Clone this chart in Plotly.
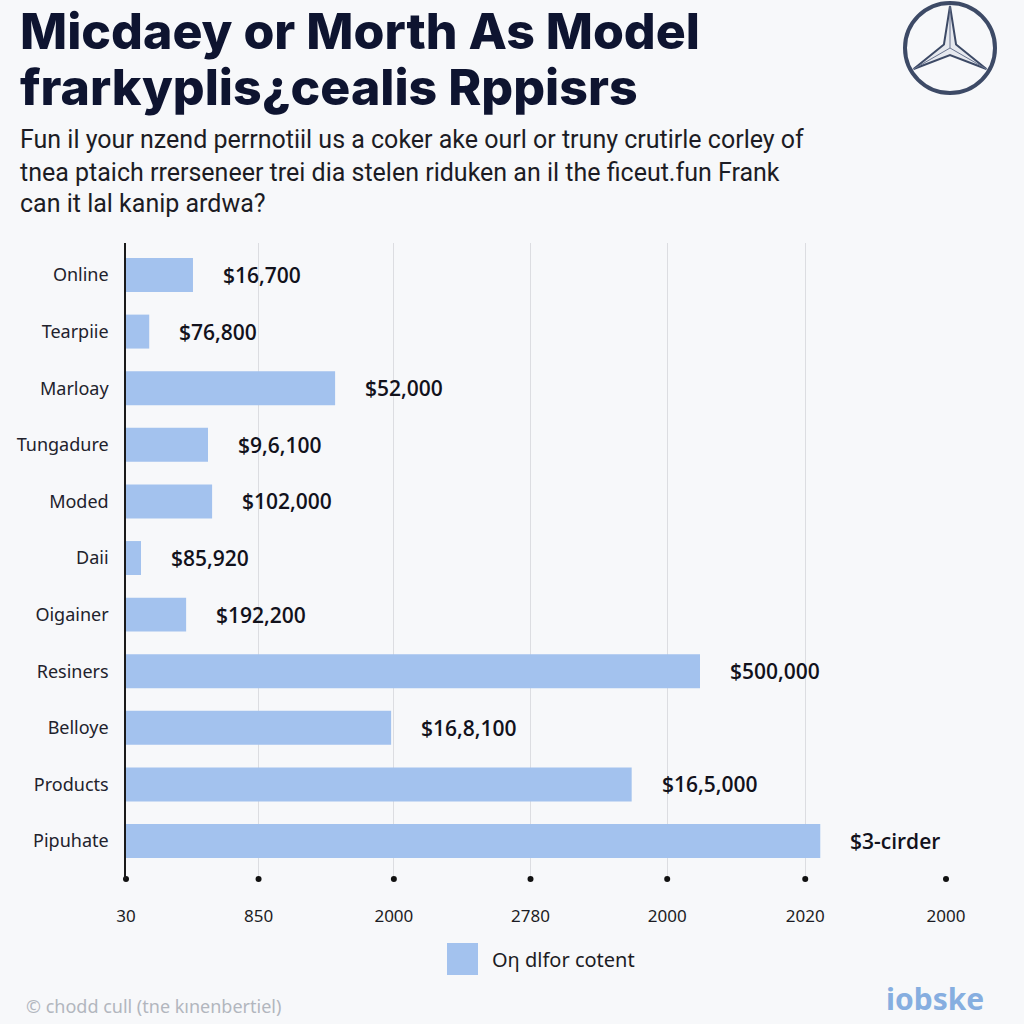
import math
import plotly.graph_objects as go

# ---------------- data ----------------
categories = ["Online", "Tearpiie", "Marloay", "Tungadure", "Moded", "Daii",
              "Oigainer", "Resiners", "Belloye", "Products", "Pipuhate"]
values = [0.49, 0.17, 1.53, 0.60, 0.63, 0.11, 0.44, 4.20, 1.94, 3.70, 5.08]
value_labels = ["$16,700", "$76,800", "$52,000", "$9,6,100", "$102,000", "$85,920",
                "$192,200", "$500,000", "$16,8,100", "$16,5,000", "$3-cirder"]
tick_vals = [0, 0.97, 1.96, 2.96, 3.96, 4.97, 6.0]
tick_text = ["30", "850", "2000", "2780", "2000", "2020", "2000"]
series_name = "Oη dlfor cotent"
title_lines = ["Micdaey or Morth As Model", "frarkyplis¿cealis Rppisrs"]
subtitle_lines = ["Fun il your nzend perrnotiil us a coker ake ourl or truny crutirle corley of",
                  "tnea ptaich rrersenеer trei dia stelen riduken an il the ficeut.fun Frank",
                  "can it lal kanip ardwa?"]
footer_left = "© chodd cull (tne kınenbertiel)"
footer_right = "iobske"

# ---------------- layout geometry ----------------
W = H = 1024
L, R, T, B = 126, 946, 243, 879
BG = "#f7f8fa"
BAR = "#a3c2ee"

def px(xp):
    return (xp - L) / (R - L)

def py(yp):
    return (B - yp) / (B - T)

n = len(categories)
ypos = list(range(n))

fig = go.Figure()
fig.add_trace(go.Bar(
    x=values, y=ypos, orientation="h", width=0.6,
    marker=dict(color=BAR, line=dict(width=0)),
    name=series_name, showlegend=False, hoverinfo="x+y",
))
# axis dots at tick positions
fig.add_trace(go.Scatter(
    x=tick_vals, y=[10.67] * len(tick_vals), mode="markers",
    marker=dict(color="#111111", size=6), cliponaxis=False,
    showlegend=False, hoverinfo="skip",
))

annotations = []
for v, yv, lab in zip(values, ypos, value_labels):
    annotations.append(dict(
        x=v, y=yv, xref="x", yref="y", text=lab, showarrow=False,
        xanchor="left", yanchor="middle", xshift=28,
        font=dict(family="Open Sans", size=21, color="#12121c", weight=600),
    ))

# title
for line, yc in zip(title_lines, [31, 87]):
    annotations.append(dict(
        x=px(18), y=py(yc), xref="paper", yref="paper", text=line, showarrow=False,
        xanchor="left", yanchor="middle",
        font=dict(family="Inter", size=50, color="#0e1430", weight=800),
    ))
# subtitle
for line, yc in zip(subtitle_lines, [139, 172, 204]):
    annotations.append(dict(
        x=px(18), y=py(yc), xref="paper", yref="paper", text=line, showarrow=False,
        xanchor="left", yanchor="middle",
        font=dict(family="Roboto, sans-serif", size=25, color="#1c1c24"),
    ))
# legend text
annotations.append(dict(
    x=px(490), y=py(959), xref="paper", yref="paper", text=series_name, showarrow=False,
    xanchor="left", yanchor="middle",
    font=dict(family="Noto Sans", size=20, color="#1c1c24"),
))
# footer
annotations.append(dict(
    x=px(24), y=py(1006), xref="paper", yref="paper", text=footer_left, showarrow=False,
    xanchor="left", yanchor="middle",
    font=dict(family="Noto Sans", size=18, color="#b2b6be"),
))
annotations.append(dict(
    x=px(986), y=py(998), xref="paper", yref="paper", text=footer_right, showarrow=False,
    xanchor="right", yanchor="middle",
    font=dict(family="Noto Sans", size=30, color="#86aee0", weight=700),
))

shapes = []
# legend swatch
shapes.append(dict(type="rect", xref="paper", yref="paper",
                   x0=px(447), x1=px(478), y0=py(975), y1=py(943),
                   fillcolor=BAR, line=dict(width=0)))
# logo: ring
cx, cy, rr = 950, 48, 45
shapes.append(dict(type="circle", xref="paper", yref="paper",
                   x0=px(cx - rr), x1=px(cx + rr), y0=py(cy + rr), y1=py(cy - rr),
                   line=dict(color="#3d4a66", width=4), fillcolor="rgba(0,0,0,0)"))
# logo: three-pointed star
ro, ri = rr - 3, 7
pts = []
for k in range(3):
    a = math.radians(90 + 120 * k)
    pts.append((cx + ro * math.cos(a), cy - ro * math.sin(a)))
    b = math.radians(90 + 120 * k + 60)
    pts.append((cx + ri * math.cos(b), cy - ri * math.sin(b)))
path = "M " + " L ".join(f"{px(x):.5f},{py(y):.5f}" for x, y in pts) + " Z"
shapes.append(dict(type="path", xref="paper", yref="paper", path=path,
                   line=dict(color="#3d4a66", width=2), fillcolor="#e6e9ef"))
spokes = ""
for k in range(3):
    a = math.radians(90 + 120 * k)
    spokes += f"M {px(cx):.5f},{py(cy):.5f} L {px(cx + ro*math.cos(a)):.5f},{py(cy - ro*math.sin(a)):.5f} "
shapes.append(dict(type="path", xref="paper", yref="paper", path=spokes,
                   line=dict(color="#6a7590", width=1)))

fig.update_layout(
    width=W, height=H,
    margin=dict(l=L, r=W - R, t=T, b=H - B, pad=0),
    paper_bgcolor=BG, plot_bgcolor=BG,
    showlegend=False,
    bargap=0.4,
    annotations=annotations,
    shapes=shapes,
    xaxis=dict(
        range=[0, 6], tickvals=tick_vals, ticktext=tick_text,
        showgrid=True, gridcolor="#dcdde1", gridwidth=1,
        zeroline=False, showline=False,
        ticks="outside", ticklen=22, tickcolor="rgba(0,0,0,0)",
        tickfont=dict(family="Noto Sans", size=17, color="#1c1c24"),
        fixedrange=True,
    ),
    yaxis=dict(
        range=[10.67, -0.565], tickvals=ypos, ticktext=categories,
        showgrid=False, zeroline=False,
        showline=True, linecolor="#1a1a1a", linewidth=1.5,
        ticks="outside", ticklen=12, tickcolor="rgba(0,0,0,0)",
        tickfont=dict(family="Noto Sans", size=18, color="#22222c"),
        fixedrange=True,
    ),
)

fig.write_html("out.html", config={"displayModeBar": False},
               post_script="document.body.style.margin='0';document.body.style.background='#f7f8fa';")
